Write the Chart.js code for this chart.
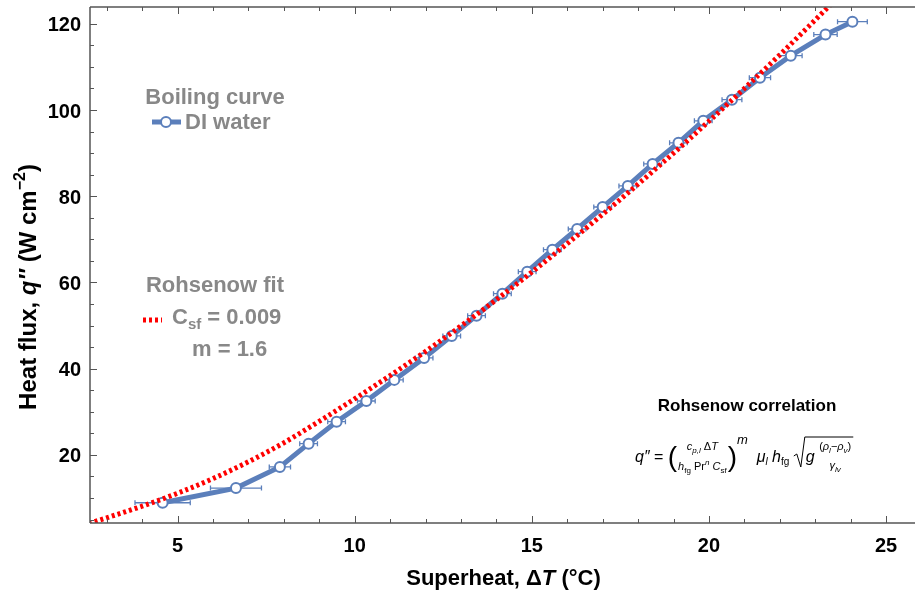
<!DOCTYPE html>
<html>
<head>
<meta charset="utf-8">
<script src="https://cdn.jsdelivr.net/npm/chart.js@4.4.0/dist/chart.umd.min.js"></script>
<style>
  html, body { margin: 0; padding: 0; background: #fff; }
  #wrap { width: 920px; height: 594px; }
</style>
</head>
<body>
<div id="wrap"><canvas id="boilChart" width="920" height="594"></canvas></div>
<script>
// boiling curve, DI water (superheat in degC, heat flux in W/cm2)
var superheat = [4.58, 6.65, 7.89, 8.70, 9.49, 10.33, 11.12, 11.96, 12.74, 13.44, 14.17, 14.87,
    15.58, 16.28, 17.00, 17.71, 18.41, 19.14, 19.84, 20.65, 21.44, 22.31, 23.29, 24.05];
var heatFlux = [8.9, 12.3, 17.2, 22.6, 27.7, 32.5, 37.4, 42.5, 47.6, 52.3, 57.4, 62.5,
    67.6, 72.4, 77.5, 82.4, 87.5, 92.4, 97.5, 102.4, 107.5, 112.6, 117.5, 120.5];
var superheatErr = [0.78, 0.72, 0.30, 0.25, 0.25, 0.25, 0.25, 0.25, 0.25, 0.25, 0.25, 0.25,
    0.25, 0.25, 0.25, 0.25, 0.25, 0.25, 0.25, 0.28, 0.30, 0.32, 0.33, 0.42];

// Rohsenow fit
var fitSuperheat = [2.5, 3, 4, 5, 6, 7, 8, 9, 10, 11, 12, 13, 14, 15, 16, 17, 18, 19, 20, 21, 22, 23, 23.5];
var fitHeatFlux = [4.1, 5.4, 8.1, 11.1, 14.5, 18.4, 22.8, 27.8, 33.0, 38.4, 44.0, 49.9, 56.0,
    62.4, 69.0, 75.8, 82.8, 90.0, 97.4, 105.0, 112.8, 120.9, 125.0];

var xTicks = [5, 10, 15, 20, 25];
var yTicks = [20, 40, 60, 80, 100, 120];

var BLUE = "#5b7fbb";
var AXIS = "#555555";
var GREY = "#888888";
var FONT = "'Liberation Sans', Arial, sans-serif";

function toPoints(xs, ys) {
    var out = [];
    for (var i = 0; i < xs.length; i++) out.push({x: xs[i], y: ys[i]});
    return out;
}

function runWidth(ctx, parts) {
    var w = 0;
    for (var i = 0; i < parts.length; i++) { ctx.font = parts[i][0]; w += ctx.measureText(parts[i][1]).width; }
    return w;
}
// parts: [font, text, dy]
function drawRunAt(ctx, parts, x, y) {
    ctx.textAlign = "left";
    for (var i = 0; i < parts.length; i++) {
        ctx.font = parts[i][0];
        ctx.fillText(parts[i][1], x, y + (parts[i][2] || 0));
        x += ctx.measureText(parts[i][1]).width;
    }
    return x;
}

// error bars, inward ticks, frame and text
var extrasPlugin = {
    id: "extras",
    beforeDatasetsDraw: function (chart) {
        var ctx = chart.ctx, xs = chart.scales.x, ys = chart.scales.y;
        ctx.save();
        ctx.strokeStyle = BLUE;
        ctx.lineWidth = 1.3;
        for (var i = 0; i < superheat.length; i++) {
            var x0 = xs.getPixelForValue(superheat[i] - superheatErr[i]);
            var x1 = xs.getPixelForValue(superheat[i] + superheatErr[i]);
            var y = ys.getPixelForValue(heatFlux[i]);
            ctx.beginPath();
            ctx.moveTo(x0, y); ctx.lineTo(x1, y);
            ctx.moveTo(x0, y - 2.5); ctx.lineTo(x0, y + 2.5);
            ctx.moveTo(x1, y - 2.5); ctx.lineTo(x1, y + 2.5);
            ctx.stroke();
        }
        ctx.restore();
    },
    afterDraw: function (chart) {
        var ctx = chart.ctx, xs = chart.scales.x, ys = chart.scales.y, a = chart.chartArea;
        ctx.save();
        // frame
        ctx.strokeStyle = AXIS;
        ctx.lineWidth = 1.5;
        ctx.beginPath();
        ctx.moveTo(a.left, a.top); ctx.lineTo(a.right + 2, a.top);
        ctx.moveTo(a.left, a.top); ctx.lineTo(a.left, a.bottom);
        ctx.moveTo(a.left, a.bottom); ctx.lineTo(a.right + 2, a.bottom);
        ctx.stroke();
        ctx.lineWidth = 1;
        ctx.beginPath();
        for (var t = 3; t <= 25; t++) {
            var px = Math.round(xs.getPixelForValue(t)) + 0.5;
            var len = (t % 5 === 0) ? 7 : 4;
            ctx.moveTo(px, a.bottom); ctx.lineTo(px, a.bottom - len);
            ctx.moveTo(px, a.top); ctx.lineTo(px, a.top + len);
        }
        for (var v = 5; v <= 120; v += 5) {
            var py = Math.round(ys.getPixelForValue(v)) + 0.5;
            var l2 = (v % 20 === 0) ? 7 : 4;
            ctx.moveTo(a.left, py); ctx.lineTo(a.left + l2, py);
        }
        ctx.stroke();

        // tick labels
        ctx.fillStyle = "#000";
        ctx.font = "bold 20px " + FONT;
        ctx.textBaseline = "middle";
        ctx.textAlign = "center";
        xTicks.forEach(function (v) { ctx.fillText(String(v), xs.getPixelForValue(v), a.bottom + 23); });
        ctx.textAlign = "right";
        yTicks.forEach(function (v) { ctx.fillText(String(v), a.left - 9, ys.getPixelForValue(v) + 2); });
        ctx.textBaseline = "alphabetic";

        // axis titles
        var xparts = [["bold 22px " + FONT, "Superheat, \u0394"], ["italic bold 22px " + FONT, "T"], ["bold 22px " + FONT, " (\u00b0C)"]];
        drawRunAt(ctx, xparts, (a.left + a.right) / 2 - runWidth(ctx, xparts) / 2 + 2, 585);

        ctx.save();
        ctx.translate(36, 287);
        ctx.rotate(-Math.PI / 2);
        var yparts = [["bold 24px " + FONT, "Heat flux, "], ["italic bold 24px " + FONT, "q\u2033"],
            ["bold 24px " + FONT, " (W cm"], ["bold 16px " + FONT, "\u22122", -11], ["bold 24px " + FONT, ")"]];
        drawRunAt(ctx, yparts, -runWidth(ctx, yparts) / 2, 0);
        ctx.restore();

        // legend block
        ctx.textAlign = "center";
        ctx.fillStyle = GREY;
        ctx.font = "bold 22px " + FONT;
        ctx.fillText("Boiling curve", 215, 104);
        ctx.fillText("Rohsenow fit", 215, 292);
        ctx.textAlign = "left";
        ctx.fillText("DI water", 185, 129);
        ctx.strokeStyle = BLUE;
        ctx.lineWidth = 5;
        ctx.beginPath(); ctx.moveTo(152, 122); ctx.lineTo(181, 122); ctx.stroke();
        ctx.fillStyle = "#fff";
        ctx.lineWidth = 2;
        ctx.beginPath(); ctx.arc(166, 122, 5, 0, Math.PI * 2); ctx.fill(); ctx.stroke();
        ctx.strokeStyle = "#ff0000";
        ctx.lineWidth = 5;
        ctx.setLineDash([3, 3]);
        ctx.beginPath(); ctx.moveTo(143, 320); ctx.lineTo(162, 320); ctx.stroke();
        ctx.setLineDash([]);
        ctx.fillStyle = GREY;
        drawRunAt(ctx, [["bold 22px " + FONT, "C"], ["bold 15px " + FONT, "sf", 5], ["bold 22px " + FONT, " = 0.009"]], 172, 324);
        ctx.font = "bold 22px " + FONT;
        ctx.fillText("m = 1.6", 192, 356);

        // correlation
        ctx.fillStyle = "#000";
        ctx.textAlign = "center";
        ctx.font = "bold 17px " + FONT;
        ctx.fillText("Rohsenow correlation", 747, 411);
        drawFormula(ctx);
        ctx.restore();
    }
};

function drawFormula(ctx) {
    var it = "italic 16px " + FONT, r = "16px " + FONT;
    var fi = "italic 11px " + FONT, fr = "11px " + FONT, fs = "8px " + FONT, fsi = "italic 8px " + FONT;
    var base = 462;
    ctx.fillStyle = "#000";
    ctx.strokeStyle = "#000";
    var x = drawRunAt(ctx, [[it, "q\u2033"], [r, " = "]], 635, base);
    ctx.font = "28px " + FONT;
    ctx.fillText("(", x, base + 4);
    x += ctx.measureText("(").width + 1;
    var num = [[fi, "c"], [fsi, "p,l", 3], [fr, " \u0394"], [fi, "T"]];
    var den = [[fi, "h"], [fs, "fg", 3], [fr, " Pr"], [fsi, "n", -5], [fi, " C"], [fs, "sf", 3]];
    var nw = runWidth(ctx, num), dw = runWidth(ctx, den), fw = Math.max(nw, dw);
    drawRunAt(ctx, num, x + (fw - nw) / 2, base - 12);
    drawRunAt(ctx, den, x + (fw - dw) / 2, base + 8);
    x += fw + 1;
    ctx.font = "28px " + FONT;
    ctx.fillText(")", x, base + 4);
    x += ctx.measureText(")").width;
    x = drawRunAt(ctx, [["italic 13px " + FONT, "m", -18], [r, "  "], [it, "\u03bc"], ["italic 10px " + FONT, "l", 3],
        [r, " "], [it, "h"], ["10px " + FONT, "fg", 3], [r, " "]], x, base);
    // root sign
    var rx = x;
    var gx = rx + 12;
    ctx.font = it;
    var gw = ctx.measureText("g ").width;
    var rn = [[fr, "("], [fi, "\u03c1"], [fsi, "l", 3], [fr, "\u2212"], [fi, "\u03c1"], [fsi, "v", 3], [fr, ")"]];
    var rd = [[fi, "\u03b3"], [fsi, "lv", 3]];
    var rnw = runWidth(ctx, rn), rdw = runWidth(ctx, rd);
    var endX = gx + gw + rnw + 2;
    ctx.lineWidth = 1;
    ctx.beginPath();
    ctx.moveTo(rx, base - 6); ctx.lineTo(rx + 3, base - 8); ctx.lineTo(rx + 7, base + 5);
    ctx.lineTo(rx + 11, base - 25); ctx.lineTo(endX, base - 25);
    ctx.stroke();
    drawRunAt(ctx, [[it, "g"]], gx, base);
    drawRunAt(ctx, rn, gx + gw, base - 12);
    drawRunAt(ctx, rd, gx + gw + (rnw - rdw) / 2, base + 7);
}

var chart = new Chart(document.getElementById("boilChart").getContext("2d"), {
    type: "scatter",
    data: {
        datasets: [
            {
                label: "DI water",
                data: toPoints(superheat, heatFlux),
                showLine: true,
                borderColor: BLUE,
                borderWidth: 5,
                pointRadius: 5,
                pointBorderWidth: 2,
                pointBackgroundColor: "#fff",
                pointBorderColor: BLUE,
                order: 1
            },
            {
                label: "Rohsenow fit",
                data: toPoints(fitSuperheat, fitHeatFlux),
                showLine: true,
                borderColor: "#ff0000",
                borderWidth: 5,
                borderDash: [3, 3],
                borderCapStyle: "butt",
                pointRadius: 0,
                cubicInterpolationMode: "monotone",
                order: 0
            }
        ]
    },
    options: {
        responsive: false,
        animation: false,
        layout: {padding: {left: 90, right: 1, top: 7, bottom: 71}},
        plugins: {legend: {display: false}, tooltip: {enabled: false}},
        scales: {
            x: {type: "linear", display: false, min: 2.53, max: 25.76},
            y: {type: "linear", display: false, min: 4.2, max: 123.9}
        }
    },
    plugins: [extrasPlugin]
});
</script>
</body>
</html>
